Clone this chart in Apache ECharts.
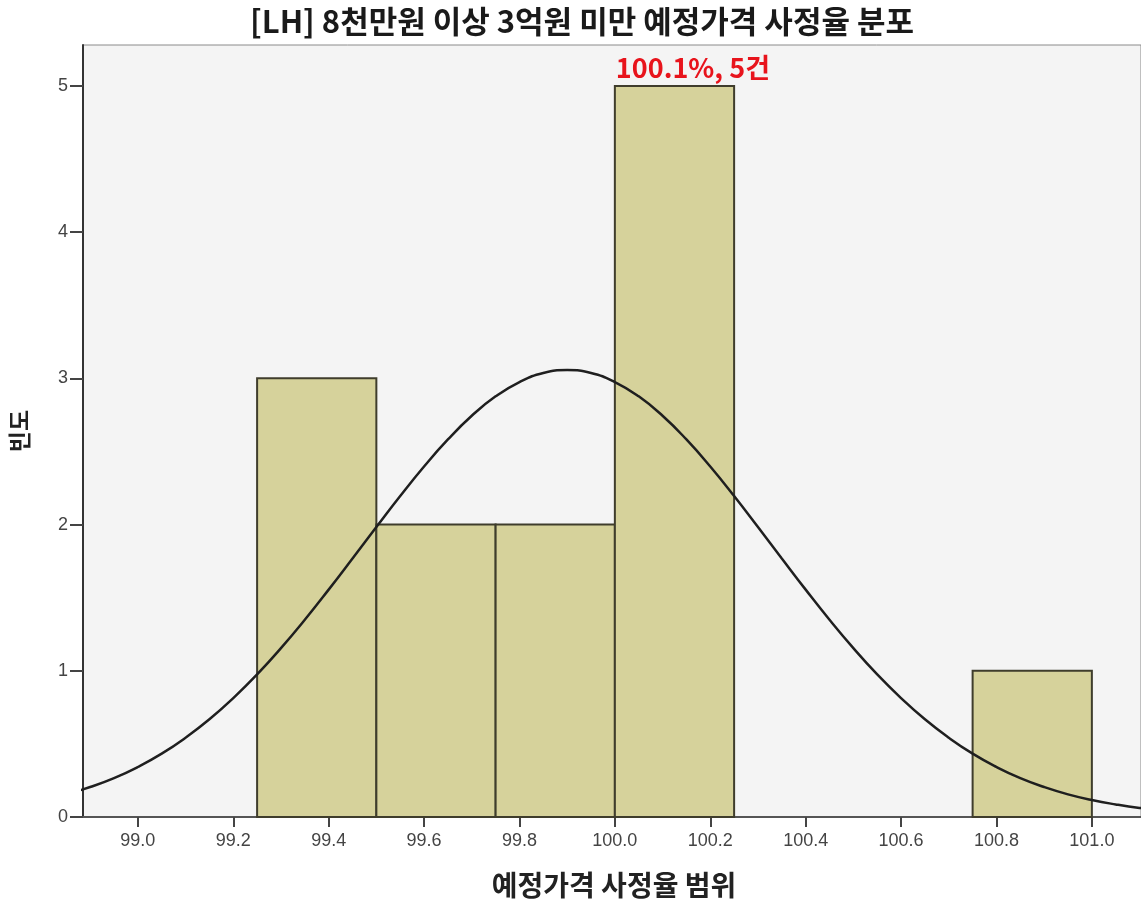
<!DOCTYPE html>
<html>
<head>
<meta charset="utf-8">
<script src="https://cdn.jsdelivr.net/npm/echarts@6/dist/echarts.min.js"></script>
<style>
html,body{margin:0;padding:0;background:#fff;}
#chart{width:1141px;height:901px;}
</style>
</head>
<body>
<div id="chart"></div>
<script>
// Histogram bins (예정가격 사정율 구간) and frequencies
const binStart = [99.25, 99.50, 99.75, 100.00, 100.75];
const binEnd   = [99.50, 99.75, 100.00, 100.25, 101.00];
const counts   = [3, 2, 2, 5, 1];
const binNotes = ["", "", "", "100.1%, 5건", ""];

// Normal curve
const curveX = [98.85, 98.90, 98.95, 99.00, 99.05, 99.10, 99.15, 99.20, 99.25, 99.30, 99.35, 99.40, 99.45, 99.50, 99.55, 99.60, 99.65, 99.70, 99.75, 99.80, 99.85, 99.90, 99.95, 100.00, 100.05, 100.10, 100.15, 100.20, 100.25, 100.30, 100.35, 100.40, 100.45, 100.50, 100.55, 100.60, 100.65, 100.70, 100.75, 100.80, 100.85, 100.90, 100.95, 101.00, 101.05, 101.10, 101.15];
const curveY = [0.155, 0.205, 0.266, 0.342, 0.433, 0.542, 0.668, 0.813, 0.975, 1.155, 1.349, 1.555, 1.768, 1.983, 2.195, 2.397, 2.582, 2.744, 2.877, 2.975, 3.037, 3.057, 3.037, 2.975, 2.877, 2.744, 2.582, 2.397, 2.195, 1.983, 1.768, 1.555, 1.349, 1.155, 0.975, 0.813, 0.668, 0.542, 0.433, 0.342, 0.266, 0.205, 0.155, 0.116, 0.086, 0.062, 0.045];

const xTicks = [99.0, 99.2, 99.4, 99.6, 99.8, 100.0, 100.2, 100.4, 100.6, 100.8, 101.0];
const yTicks = [0, 1, 2, 3, 4, 5];

const titleText = "[LH] 8천만원 이상 3억원 미만 예정가격 사정율 분포";
const xName = "예정가격 사정율 범위";
const yName = "빈도";

const font = "Liberation Sans, Arial, sans-serif";
const kfont = "'Noto Sans CJK KR', sans-serif";

const barData = binStart.map((s, i) => [s, binEnd[i], counts[i], binNotes[i]]);
const curveData = curveX.map((x, i) => [x, curveY[i]]);

const chart = echarts.init(document.getElementById('chart'));
chart.setOption({
  animation: false,
  backgroundColor: '#ffffff',
  title: {
    text: titleText,
    left: 577, top: 1, textAlign: 'center',
    textStyle: { fontFamily: kfont, fontSize: 31, fontWeight: 'bold', color: '#1a1a1a' }
  },
  grid: {
    left: 83, right: 0, top: 45, bottom: 84,
    outerBoundsMode: 'none', containLabel: false,
    show: true, backgroundColor: '#f4f4f4', borderColor: '#8a8a8a', borderWidth: 1
  },
  xAxis: {
    type: 'value', min: 98.885, max: 101.103,
    name: xName, nameLocation: 'middle', nameGap: 54,
    nameTextStyle: { fontFamily: kfont, fontSize: 28, color: '#222', fontWeight: 'bold', padding: [0, 0, 0, 4] },
    axisLine: { show: true, onZero: false, lineStyle: { color: '#555', width: 2 } },
    axisTick: { show: true, customValues: xTicks, length: 10, lineStyle: { color: '#444', width: 2 } },
    axisLabel: { customValues: xTicks, formatter: v => v.toFixed(1), fontFamily: font, fontSize: 18, color: '#444', margin: 15 },
    splitLine: { show: false }
  },
  yAxis: {
    type: 'value', min: 0, max: 5.28,
    name: yName, nameLocation: 'middle', nameGap: 52, nameRotate: 90,
    nameTextStyle: { fontFamily: kfont, fontSize: 23, color: '#222', fontWeight: 'bold' },
    axisLine: { show: true, lineStyle: { color: '#333', width: 2 } },
    axisTick: { show: true, customValues: yTicks, length: 13, lineStyle: { color: '#444', width: 2 } },
    axisLabel: { customValues: yTicks, fontFamily: font, fontSize: 18, color: '#444', margin: 15 },
    splitLine: { show: false }
  },
  series: [
    {
      type: 'custom',
      data: barData,
      encode: { x: [0, 1], y: 2 },
      renderItem: function (params, api) {
        const p0 = api.coord([api.value(0), 0]);
        const p1 = api.coord([api.value(1), api.value(2)]);
        const children = [{
          type: 'rect',
          shape: { x: p0[0], y: p1[1], width: p1[0] - p0[0], height: p0[1] - p1[1] },
          style: { fill: '#d6d29b', stroke: '#3f3d2c', lineWidth: 2 }
        }];
        const note = barData[params.dataIndex][3];
        if (note) {
          children.push({
            type: 'text',
            x: p0[0] + 1, y: p1[1] - 5,
            style: { text: note, fill: '#e8141c', font: "bold 27px 'Noto Sans CJK KR', sans-serif", textAlign: 'left', textVerticalAlign: 'bottom' }
          });
        }
        return { type: 'group', children: children };
      },
      z: 2
    },
    {
      type: 'line',
      data: curveData,
      smooth: true,
      showSymbol: false,
      clip: true,
      lineStyle: { color: '#1f1f1f', width: 2.5 },
      z: 3
    }
  ]
});
</script>
</body>
</html>
